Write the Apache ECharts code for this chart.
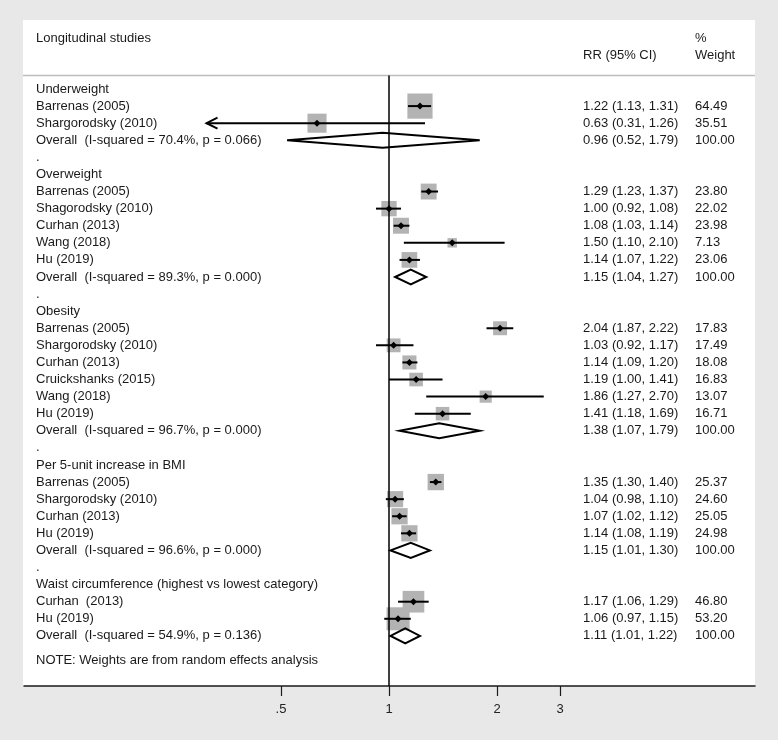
<!DOCTYPE html>
<html><head><meta charset="utf-8">
<script src="https://cdn.jsdelivr.net/npm/echarts@6/dist/echarts.min.js"></script>
<style>html,body{margin:0;padding:0;background:#e8e8e8}#c{width:778px;height:740px}</style>
</head><body><div id="c"></div>
<script>
// ---- data ----
const rowLabels = [
  'Underweight', 'Barrenas (2005)', 'Shargorodsky (2010)', 'Overall  (I-squared = 70.4%, p = 0.066)', '.',
  'Overweight', 'Barrenas (2005)', 'Shagorodsky (2010)', 'Curhan (2013)', 'Wang (2018)', 'Hu (2019)', 'Overall  (I-squared = 89.3%, p = 0.000)', '.',
  'Obesity', 'Barrenas (2005)', 'Shargorodsky (2010)', 'Curhan (2013)', 'Cruickshanks (2015)', 'Wang (2018)', 'Hu (2019)', 'Overall  (I-squared = 96.7%, p = 0.000)', '.',
  'Per 5-unit increase in BMI', 'Barrenas (2005)', 'Shargorodsky (2010)', 'Curhan (2013)', 'Hu (2019)', 'Overall  (I-squared = 96.6%, p = 0.000)', '.',
  'Waist circumference (highest vs lowest category)', 'Curhan  (2013)', 'Hu (2019)', 'Overall  (I-squared = 54.9%, p = 0.136)'
];
const rowKinds = [
  'group', 'study', 'study', 'overall', 'gap',
  'group', 'study', 'study', 'study', 'study', 'study', 'overall', 'gap',
  'group', 'study', 'study', 'study', 'study', 'study', 'study', 'overall', 'gap',
  'group', 'study', 'study', 'study', 'study', 'overall', 'gap',
  'group', 'study', 'study', 'overall'
];
const rrValues = [
  null, 1.22, 0.63, 0.96, null,
  null, 1.29, 1.00, 1.08, 1.50, 1.14, 1.15, null,
  null, 2.04, 1.03, 1.14, 1.19, 1.86, 1.41, 1.38, null,
  null, 1.35, 1.04, 1.07, 1.14, 1.15, null,
  null, 1.17, 1.06, 1.11
];
const ciLower = [
  null, 1.13, 0.31, 0.52, null,
  null, 1.23, 0.92, 1.03, 1.10, 1.07, 1.04, null,
  null, 1.87, 0.92, 1.09, 1.00, 1.27, 1.18, 1.07, null,
  null, 1.30, 0.98, 1.02, 1.08, 1.01, null,
  null, 1.06, 0.97, 1.01
];
const ciUpper = [
  null, 1.31, 1.26, 1.79, null,
  null, 1.37, 1.08, 1.14, 2.10, 1.22, 1.27, null,
  null, 2.22, 1.17, 1.20, 1.41, 2.70, 1.69, 1.79, null,
  null, 1.40, 1.10, 1.12, 1.19, 1.30, null,
  null, 1.29, 1.15, 1.22
];
const weights = [
  null, 64.49, 35.51, 100.00, null,
  null, 23.80, 22.02, 23.98, 7.13, 23.06, 100.00, null,
  null, 17.83, 17.49, 18.08, 16.83, 13.07, 16.71, 100.00, null,
  null, 25.37, 24.60, 25.05, 24.98, 100.00, null,
  null, 46.80, 53.20, 100.00
];
const tickValues = [0.5, 1, 2, 3];
const tickLabels = ['.5', '1', '2', '3'];
const headerTitle = 'Longitudinal studies';
const headerRR = 'RR (95% CI)';
const headerPct = '%';
const headerWeight = 'Weight';
const noteText = 'NOTE: Weights are from random effects analysis';

// ---- layout ----
const FONT = '"Liberation Sans", Arial, Helvetica, sans-serif';
const TXT = '#1a1a1a';
const xAt1 = 389, pxPerDoubling = 108, gridL = 24, gridR = 755;
const rowY0 = 89, rowStep = 17.09, gridTop = 75.5, gridBottom = 686;
const xMin = Math.pow(2, (gridL - xAt1) / pxPerDoubling);
const xMax = Math.pow(2, (gridR - xAt1) / pxPerDoubling);
const yMin = (gridTop - rowY0) / rowStep;
const yMax = (gridBottom - rowY0) / rowStep;

const labelData = rowLabels.map((l, i) => [1, i]);
const studyData = [], overallData = [], textData = [];
rowKinds.forEach((k, i) => {
  if (k === 'study') studyData.push([rrValues[i], i, ciLower[i], ciUpper[i], weights[i]]);
  if (k === 'overall') overallData.push([rrValues[i], i, ciLower[i], ciUpper[i]]);
  if (k === 'study' || k === 'overall') textData.push([1, i]);
});

function txt(x, y, s) {
  return { type: 'text', x: x, y: y, style: { text: s, fill: TXT, font: '13px ' + FONT, textAlign: 'left', textVerticalAlign: 'middle' } };
}

const chart = echarts.init(document.getElementById('c'), null, { renderer: 'canvas' });
chart.setOption({
  backgroundColor: '#e8e8e8',
  animation: false,
  graphic: [
    { type: 'rect', z: -10, shape: { x: 23, y: 20, width: 732, height: 666 }, style: { fill: '#ffffff' } },
    { type: 'line', z: 1, shape: { x1: 23, y1: 75.5, x2: 755, y2: 75.5 }, style: { stroke: '#bdbdbd', lineWidth: 1.5 } },
    Object.assign(txt(36, 38, headerTitle), { z: 5 }),
    Object.assign(txt(583, 55, headerRR), { z: 5 }),
    Object.assign(txt(695, 38, headerPct), { z: 5 }),
    Object.assign(txt(695, 55, headerWeight), { z: 5 }),
    Object.assign(txt(36, 660, noteText), { z: 5 })
  ],
  grid: { left: gridL, right: 778 - gridR, top: gridTop, bottom: 740 - gridBottom },
  xAxis: {
    type: 'log', logBase: 2, min: xMin, max: xMax,
    axisLine: { show: true, onZero: false, lineStyle: { color: '#1a1a1a', width: 1.5 } },
    axisTick: { show: true, customValues: tickValues, length: 10, inside: false, lineStyle: { color: '#1a1a1a', width: 1.2 } },
    axisLabel: {
      show: true, customValues: tickValues, margin: 17, color: '#222', fontSize: 13, fontFamily: FONT,
      formatter: v => { const k = tickValues.findIndex(t => Math.abs(t - v) < 1e-6); return k >= 0 ? tickLabels[k] : ''; }
    },
    splitLine: { show: false }, minorTick: { show: false }
  },
  yAxis: { type: 'value', inverse: true, min: yMin, max: yMax, show: false },
  series: [
    {
      type: 'custom', name: 'labels', data: labelData, silent: true, z: 5,
      renderItem: (params, api) => {
        const p = api.coord([1, api.value(1)]);
        return txt(36, p[1], rowLabels[params.dataIndex]);
      }
    },
    {
      type: 'custom', name: 'studies', data: studyData, z: 3,
      renderItem: (params, api) => {
        const r = api.value(1);
        const p = api.coord([api.value(0), r]);
        const pl = api.coord([api.value(2), r]);
        const ph = api.coord([api.value(3), r]);
        const side = 1.5 + 2.95 * Math.sqrt(api.value(4));
        const y = p[1];
        const ch = [
          { type: 'rect', shape: { x: p[0] - side / 2, y: y - side / 2, width: side, height: side }, style: { fill: '#b3b3b3' } },
          { type: 'line', shape: { x1: pl[0], y1: y, x2: ph[0], y2: y }, style: { stroke: '#000', lineWidth: 2 } },
          { type: 'polygon', shape: { points: [[p[0] - 3.5, y], [p[0], y - 3.5], [p[0] + 3.5, y], [p[0], y + 3.5]] }, style: { fill: '#000' } }
        ];
        if (api.value(2) < tickValues[0]) {
          ch.push({ type: 'polyline', shape: { points: [[pl[0] + 11, y - 5.5], [pl[0], y], [pl[0] + 11, y + 5.5]] }, style: { stroke: '#000', lineWidth: 2, fill: null } });
        }
        return { type: 'group', children: ch };
      },
      markLine: {
        silent: true, symbol: ['none', 'none'], label: { show: false },
        lineStyle: { color: '#000', width: 1.5, type: 'solid' },
        data: [{ xAxis: 1 }]
      }
    },
    {
      type: 'custom', name: 'overall', data: overallData, z: 4,
      renderItem: (params, api) => {
        const r = api.value(1);
        const p = api.coord([api.value(0), r]);
        const pl = api.coord([api.value(2), r]);
        const ph = api.coord([api.value(3), r]);
        const y = p[1], h = 7.5;
        return { type: 'polygon', shape: { points: [[pl[0], y], [p[0], y - h], [ph[0], y], [p[0], y + h]] }, style: { fill: null, stroke: '#000', lineWidth: 2, lineJoin: 'miter' } };
      }
    },
    {
      type: 'custom', name: 'columns', data: textData, silent: true, z: 5,
      renderItem: (params, api) => {
        const i = api.value(1);
        const y = api.coord([1, i])[1];
        const s = rrValues[i].toFixed(2) + ' (' + ciLower[i].toFixed(2) + ', ' + ciUpper[i].toFixed(2) + ')';
        return { type: 'group', children: [txt(583, y, s), txt(695, y, weights[i].toFixed(2))] };
      }
    }
  ]
});
</script>
</body></html>
